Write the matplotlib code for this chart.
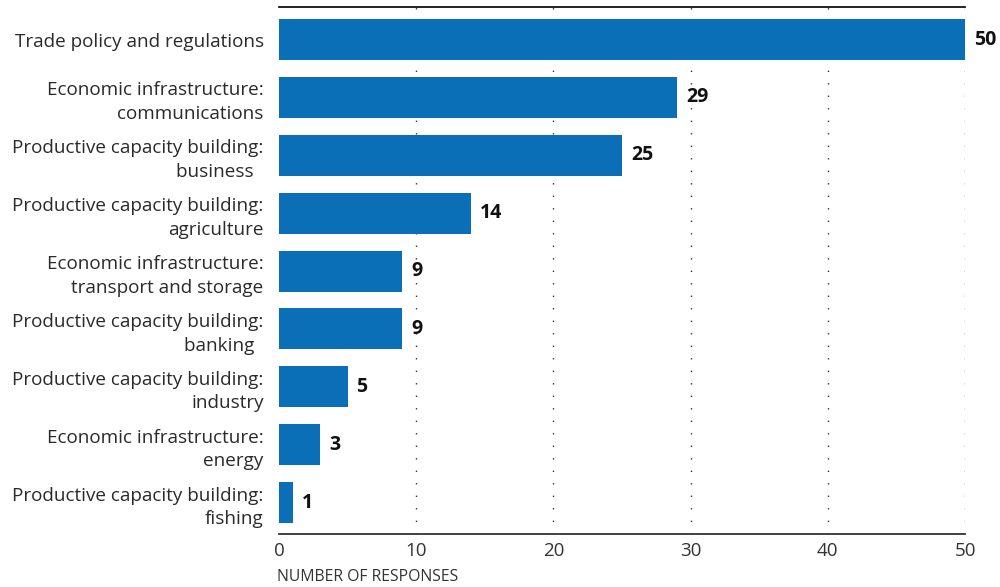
import matplotlib
matplotlib.use("Agg")
import matplotlib.pyplot as plt
import numpy as np

categories = [
    "Trade policy and regulations",
    "Economic infrastructure:\ncommunications",
    "Productive capacity building:\nbusiness  ",
    "Productive capacity building:\nagriculture",
    "Economic infrastructure:\ntransport and storage",
    "Productive capacity building:\nbanking  ",
    "Productive capacity building:\nindustry",
    "Economic infrastructure:\nenergy",
    "Productive capacity building:\nfishing",
]
responses = [50, 29, 25, 14, 9, 9, 5, 3, 1]
xticks = [0, 10, 20, 30, 40, 50]

plt.rcParams['font.family'] = ['Open Sans', 'DejaVu Sans']

fig = plt.figure(figsize=(10, 5.87), dpi=100)
ax = fig.add_axes([0.279, 0.0903, 0.686, 0.8977])

y = np.arange(len(categories))
ax.barh(y, responses, height=0.71, color="#0a6fb7", zorder=2)

for yi, v in zip(y, responses):
    ax.text(v + 0.65, yi, str(v), va="center", ha="left",
            fontsize=14, fontweight="bold", color="#111111")

ax.set_ylim(8.544, -0.563)
ax.set_xlim(0, 50)
ax.set_yticks(y)
ax.set_yticklabels(categories, fontsize=13.6, color="#2a2a2a", linespacing=1.4)
ax.set_xticks(xticks)
ax.set_xticklabels([str(t) for t in xticks], fontsize=13.5, color="#333333")
ax.tick_params(axis="y", length=0, pad=11)
ax.tick_params(axis="x", length=0, pad=6)

for t in xticks[1:]:
    ax.axvline(t, color="#333333", linestyle=(0, (1, 8)), linewidth=1.0, zorder=1)

for s in ["left", "right"]:
    ax.spines[s].set_visible(False)
ax.spines["top"].set_color("#111111")
ax.spines["top"].set_linewidth(1.3)
ax.spines["bottom"].set_color("#333333")
ax.spines["bottom"].set_linewidth(1.3)

fig.text(0.277, 0.003, "NUMBER OF RESPONSES", fontsize=11.3, color="#333333",
         ha="left", va="bottom")

fig.savefig("out.png", dpi=100)
